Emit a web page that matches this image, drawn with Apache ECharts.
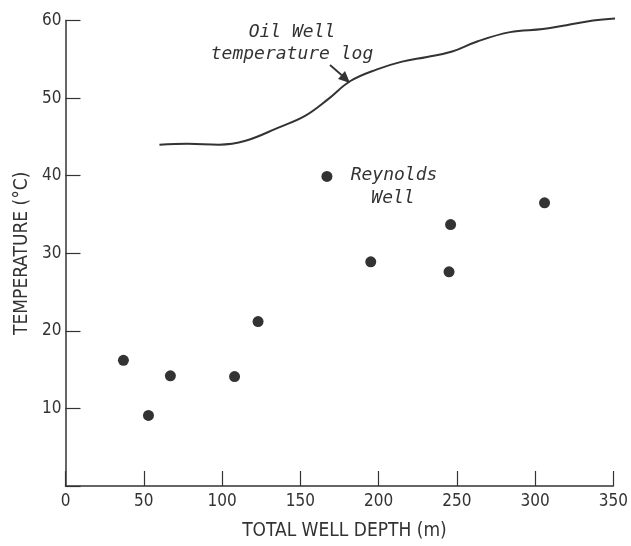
<!DOCTYPE html>
<html>
<head>
<meta charset="utf-8">
<script src="https://cdn.jsdelivr.net/npm/echarts@6/dist/echarts.min.js"></script>
<style>
    html, body { margin: 0; padding: 0; background: #fff; }
    #main { width: 631px; height: 546px; }
</style>
</head>
<body>
<div id="main"></div>
<script>
// Reynolds Well points: depth (m), temperature (C)
var wellDepth = [37, 53, 67, 108, 123, 167, 195, 245, 246, 306];
var wellTemp = [16.2, 9.1, 14.2, 14.1, 21.2, 39.9, 28.9, 27.6, 33.7, 36.5];

// oil well temperature log
var logDepth = [60, 78, 98, 115, 136, 153, 168, 182, 199, 215, 231, 247, 263, 284, 305, 320, 337, 353];
var logTemp = [44.0, 44.1, 44.0, 44.5, 46.2, 47.7, 49.9, 52.2, 53.7, 54.7, 55.3, 56.0, 57.3, 58.5, 58.9, 59.4, 60.0, 60.3];

var xTicks = [0, 50, 100, 150, 200, 250, 300, 350];
var yTicks = [10, 20, 30, 40, 50, 60];

var ink = '#333';
var narrow = "'Liberation Sans Narrow', 'DejaVu Sans Condensed', sans-serif";
var mono = "'DejaVu Sans Mono', monospace";

function pairs(xs, ys) {
    var out = [];
    for (var i = 0; i < xs.length; i++) {
        out.push([xs[i], ys[i]]);
    }
    return out;
}

// italic annotation text
function note(text, x, y) {
    return {
        type: 'text',
        style: {
            text: text, x: x, y: y,
            align: 'center', verticalAlign: 'middle',
            font: 'italic 18px ' + mono, fill: ink
        }
    };
}

var myChart = echarts.init(document.getElementById('main'));

myChart.setOption({
    animation: false,
    grid: { left: 65.5, right: 13, top: 20.5, bottom: 57 },
    xAxis: {
        type: 'value',
        min: xTicks[0],
        max: xTicks[xTicks.length - 1],
        interval: 50,
        name: 'TOTAL WELL DEPTH (m)',
        nameLocation: 'middle',
        nameGap: 36,
        nameTextStyle: { fontFamily: narrow, fontSize: 19, color: ink, padding: [0, 0, 0, 10] },
        axisLine: { lineStyle: { color: ink, width: 1.5 } },
        axisTick: { inside: true, length: 15, lineStyle: { color: ink, width: 1.2 } },
        axisLabel: { margin: 7, fontFamily: narrow, fontSize: 17, color: ink },
        splitLine: { show: false }
    },
    yAxis: {
        type: 'value',
        min: 0,
        max: yTicks[yTicks.length - 1],
        interval: 10,
        name: 'TEMPERATURE (\u00b0C)',
        nameLocation: 'middle',
        nameGap: 34,
        nameTextStyle: { fontFamily: narrow, fontSize: 19, color: ink },
        axisLine: { show: true, lineStyle: { color: ink, width: 1.5 } },
        axisTick: { show: true, inside: true, length: 15, lineStyle: { color: ink, width: 1.2 } },
        axisLabel: {
            margin: 4,
            fontFamily: narrow,
            fontSize: 17,
            color: ink,
            formatter: function (v) { return yTicks.indexOf(v) >= 0 ? String(v) : ''; }
        },
        splitLine: { show: false }
    },
    series: [
        {
            name: 'Oil Well temperature log',
            type: 'line',
            data: pairs(logDepth, logTemp),
            smooth: 0.4,
            symbol: 'none',
            clip: false,
            lineStyle: { color: ink, width: 2 }
        },
        {
            name: 'Reynolds Well',
            type: 'scatter',
            data: pairs(wellDepth, wellTemp),
            symbolSize: 11,
            itemStyle: { color: ink, opacity: 1 }
        }
    ],
    graphic: [
        note('Oil Well', 292, 32),
        note('temperature log', 292, 54),
        {
            type: 'line',
            shape: { x1: 330, y1: 65, x2: 345, y2: 78 },
            style: { stroke: ink, lineWidth: 1.8 }
        },
        {
            type: 'polygon',
            shape: { points: [[350, 83], [338, 79], [345, 71]] },
            style: { fill: ink }
        },
        note('Reynolds', 394, 175),
        note('Well', 393, 198)
    ]
});
</script>
</body>
</html>
